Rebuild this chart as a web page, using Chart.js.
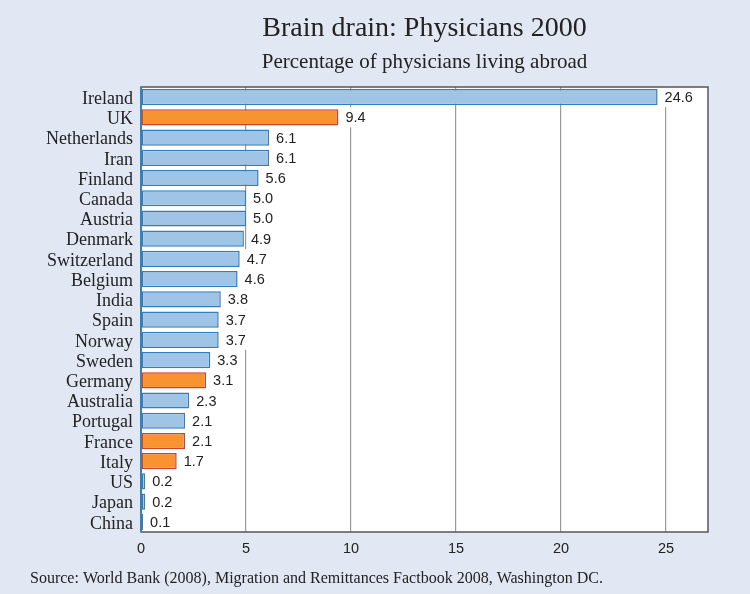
<!DOCTYPE html>
<html>
<head>
<meta charset="utf-8">
<script src="https://cdn.jsdelivr.net/npm/chart.js@4"></script>
<style>
  html, body { margin: 0; padding: 0; background: #e1e8f4; }
  #wrap { width: 750px; height: 594px; }
</style>
</head>
<body>
<div id="wrap"><canvas id="myChart"></canvas></div>
<script>
// dữ liệu
const countries = ['Ireland', 'UK', 'Netherlands', 'Iran', 'Finland', 'Canada', 'Austria', 'Denmark',
  'Switzerland', 'Belgium', 'India', 'Spain', 'Norway', 'Sweden', 'Germany', 'Australia',
  'Portugal', 'France', 'Italy', 'US', 'Japan', 'China'];
const shareAbroad = [24.6, 9.4, 6.1, 6.1, 5.6, 5.0, 5.0, 4.9, 4.7, 4.6, 3.8, 3.7, 3.7, 3.3, 3.1, 2.3, 2.1, 2.1, 1.7, 0.2, 0.2, 0.1];
const highlighted = ['UK', 'Germany', 'France', 'Italy'];
const xTicks = [0, 5, 10, 15, 20, 25];

const titleText = 'Brain drain: Physicians 2000';
const subtitleText = 'Percentage of physicians living abroad';
const sourceText = 'Source: World Bank (2008), Migration and Remittances Factbook 2008, Washington DC.';

const fillColors = countries.map(c => highlighted.includes(c) ? '#f7942f' : '#a0c4e6');
const borderColors = countries.map(c => highlighted.includes(c) ? '#d2402e' : '#2f7fc1');

const decor = {
  id: 'decor',
  beforeDraw(chart) {
    const { ctx, chartArea: a } = chart;
    ctx.save();
    ctx.fillStyle = '#e1e8f4';
    ctx.fillRect(0, 0, chart.width, chart.height);
    ctx.fillStyle = '#ffffff';
    ctx.fillRect(a.left, a.top, a.right - a.left, a.bottom - a.top);
    ctx.restore();
  },
  afterDatasetsDraw(chart) {
    const { ctx, chartArea: a } = chart;
    const meta = chart.getDatasetMeta(0);
    ctx.save();
    // nhãn giá trị, nền trắng che đường lưới
    ctx.font = '14.5px "Liberation Sans", Arial, sans-serif';
    ctx.textBaseline = 'middle';
    ctx.textAlign = 'left';
    meta.data.forEach((bar, i) => {
      const txt = shareAbroad[i].toFixed(1);
      const w = ctx.measureText(txt).width;
      const x = bar.x + 7;
      ctx.fillStyle = '#ffffff';
      ctx.fillRect(x - 3, bar.y - 10, w + 8, 20);
      ctx.fillStyle = '#222222';
      ctx.fillText(txt, x, bar.y + 1);
    });
    // khung vùng vẽ
    ctx.strokeStyle = '#555555';
    ctx.lineWidth = 1.5;
    ctx.strokeRect(a.left, a.top, a.right - a.left, a.bottom - a.top);
    ctx.strokeStyle = '#2f7fc1';
    ctx.beginPath();
    ctx.moveTo(a.left, a.top);
    ctx.lineTo(a.left, a.bottom);
    ctx.stroke();
    // tiêu đề
    const cx = (a.left + a.right) / 2;
    ctx.fillStyle = '#222222';
    ctx.textAlign = 'center';
    ctx.textBaseline = 'alphabetic';
    ctx.font = '28px "Liberation Serif", "Times New Roman", serif';
    ctx.fillText(titleText, cx, 36);
    ctx.font = '21px "Liberation Serif", "Times New Roman", serif';
    ctx.fillText(subtitleText, cx, 68);
    ctx.textAlign = 'left';
    ctx.font = '16px "Liberation Serif", "Times New Roman", serif';
    ctx.fillText(sourceText, 30, 583);
    ctx.restore();
  }
};

const ctx = document.getElementById('myChart').getContext('2d');
const myChart = new Chart(ctx, {
  type: 'bar',
  data: {
    labels: countries,
    datasets: [{
      data: shareAbroad,
      backgroundColor: fillColors,
      borderColor: borderColors,
      borderWidth: 1.5,
      borderSkipped: false,
      barPercentage: 0.8,
      categoryPercentage: 1.0
    }]
  },
  options: {
    indexAxis: 'y',
    responsive: true,
    maintainAspectRatio: false,
    animation: false,
    layout: { padding: { top: 87, right: 42, bottom: 32, left: 0 } },
    plugins: { legend: { display: false }, tooltip: { enabled: false }, title: { display: false } },
    scales: {
      x: {
        min: 0,
        max: 27,
        afterBuildTicks: axis => { axis.ticks = xTicks.map(v => ({ value: v })); },
        afterFit: axis => { axis.height = 30; },
        grid: {
          color: ctx => ctx.tick && ctx.tick.value === 0 ? 'rgba(0,0,0,0)' : '#9a9a9a',
          lineWidth: 1.2,
          drawTicks: false
        },
        border: { display: false },
        ticks: {
          padding: 8,
          color: '#222222',
          font: { family: '"Liberation Sans", Arial, sans-serif', size: 14.5 }
        }
      },
      y: {
        afterFit: axis => { axis.width = 141; },
        grid: { display: false, drawTicks: false },
        border: { display: false },
        ticks: {
          padding: 8,
          labelOffset: 2,
          color: '#222222',
          autoSkip: false,
          font: { family: '"Liberation Serif", "Times New Roman", serif', size: 18 }
        }
      }
    }
  },
  plugins: [decor]
});
</script>
</body>
</html>
